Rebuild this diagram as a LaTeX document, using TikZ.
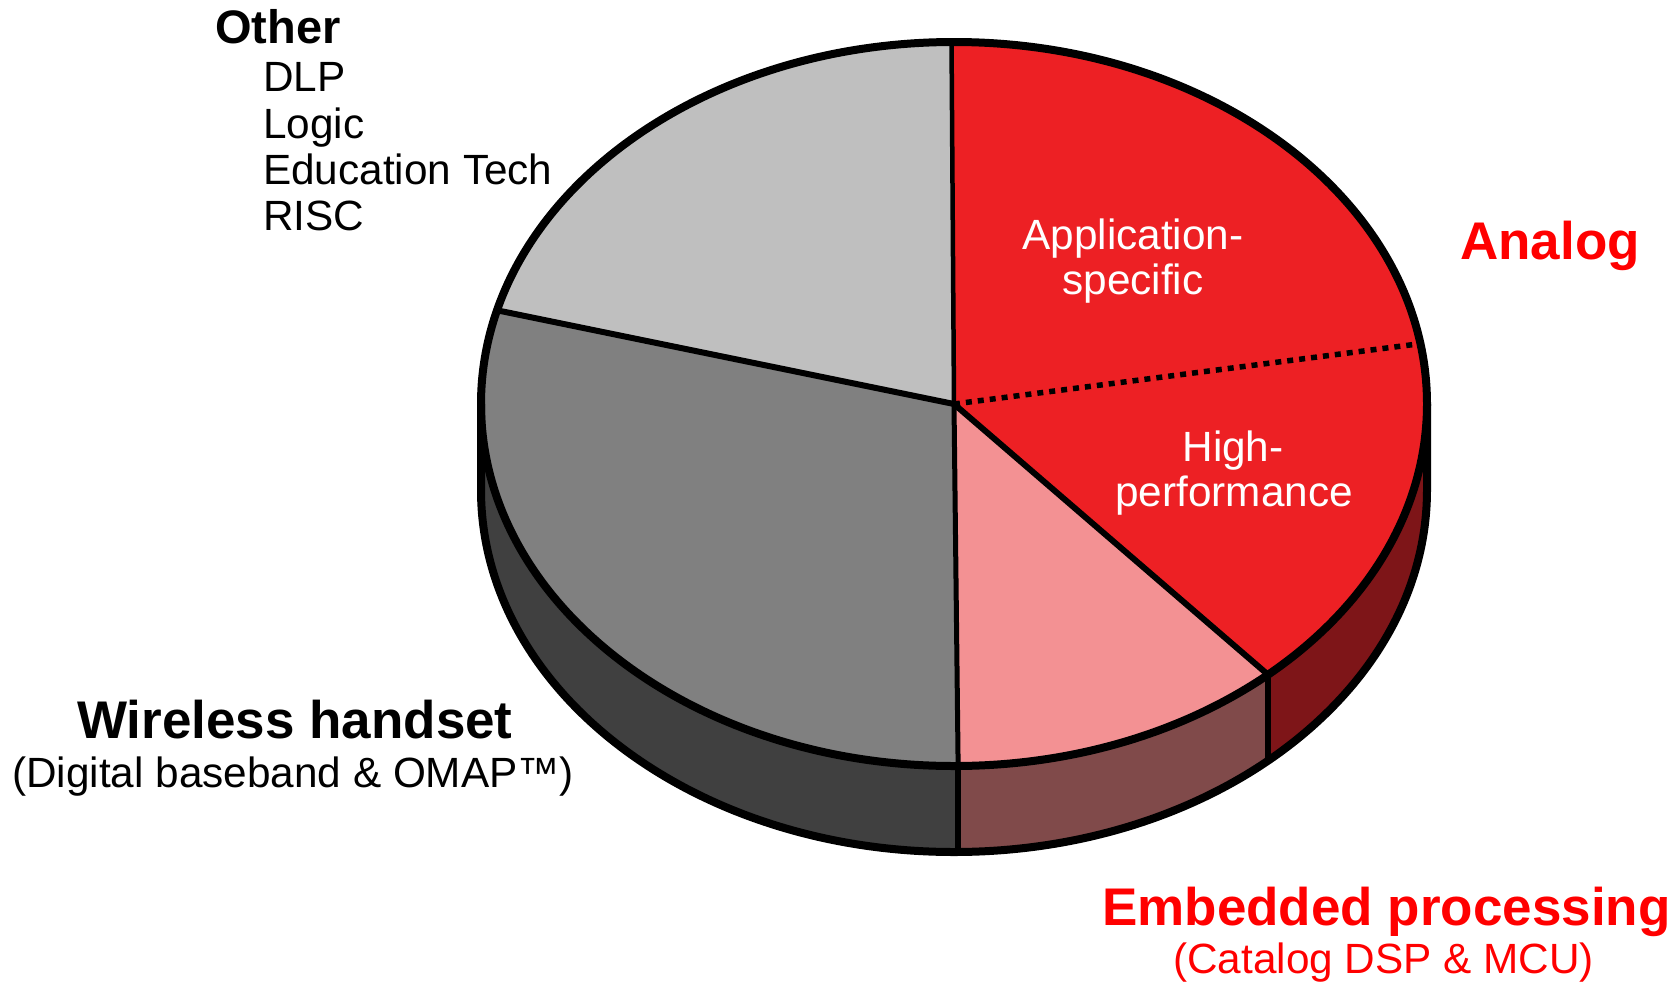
\documentclass[tikz,border=0pt]{standalone}
\usepackage{fontspec}
\setmainfont{Liberation Sans}
\usetikzlibrary{calc}
\definecolor{lightg}{HTML}{BFBFBF}
\definecolor{midg}{HTML}{808080}
\definecolor{wside}{HTML}{404040}
\definecolor{redc}{HTML}{ED2024}
\definecolor{pinkc}{HTML}{F39193}
\definecolor{eside}{HTML}{804A4A}
\definecolor{rside}{HTML}{7E1518}
\definecolor{labred}{HTML}{FF0000}
\definecolor{shadowc}{HTML}{A0A0A0}
\tikzset{
  reg/.style={inner sep=0pt, font=\fontsize{42.3pt}{46pt}\selectfont},
  boldbig/.style={inner sep=0pt, font=\fontsize{53pt}{58pt}\selectfont\bfseries},
  outline/.style={line width=8pt, line join=round},
  sliceline/.style={line width=6pt, line cap=round},
  ell/.style={x radius=473pt, y radius=362pt}
}
\begin{document}
\begin{tikzpicture}[x=1pt,y=1pt]
\useasboundingbox (0,0) rectangle (1674,-983);
% geometry
\coordinate (C) at (954,-404);
\coordinate (pL) at (481,-404);
\coordinate (pR) at (1427,-404);
\coordinate (pLb) at (481,-490);
\coordinate (pRb) at (1427,-490);
\coordinate (pTop) at ($(C)+(90.3:473pt and 362pt)$);
\coordinate (pOW) at ($(C)+(165:473pt and 362pt)$);
\coordinate (pWE) at ($(C)+(270.5:473pt and 362pt)$);
\coordinate (pEH) at ($(C)+(311.6:473pt and 362pt)$);
\coordinate (pHA) at ($(C)+(9.6:473pt and 362pt)$);
\coordinate (pWEb) at ($(pWE)+(0,-86)$);
\coordinate (pEHb) at ($(pEH)+(0,-86)$);
% shadow
\fill[shadowc, shift={(4,-9)}] (pL) -- (pLb) arc[start angle=180, end angle=360, ell] -- (pR) -- cycle;
% side faces
\fill[wside] (pL) -- (pLb) arc[start angle=180, end angle=270.5, ell] -- (pWE) arc[start angle=270.5, end angle=180, ell] -- cycle;
\fill[eside] (pWE) -- (pWEb) arc[start angle=270.5, end angle=311.6, ell] -- (pEH) arc[start angle=311.6, end angle=270.5, ell] -- cycle;
\fill[rside] (pEH) -- (pEHb) arc[start angle=311.6, end angle=360, ell] -- (pR) arc[start angle=360, end angle=311.6, ell] -- cycle;
% top slices
\fill[lightg] (C) -- (pTop) arc[start angle=90.3, end angle=165, ell] -- cycle;
\fill[midg] (C) -- (pOW) arc[start angle=165, end angle=270.5, ell] -- cycle;
\fill[pinkc] (C) -- (pWE) arc[start angle=270.5, end angle=311.6, ell] -- cycle;
\fill[redc] (C) -- (pEH) arc[start angle=311.6, end angle=450.3, ell] -- cycle;
% slice borders
\draw[sliceline, line width=4.5pt] (C) -- (pTop);
\draw[sliceline] (C) -- (pOW);
\draw[sliceline] (C) -- (pEH);
\draw[sliceline, line width=5pt] (C) -- (pWE);
\draw[line width=5.5pt, dash pattern=on 6pt off 6pt] (C) -- (pHA);
\draw[line width=5.5pt] (pWE) -- (pWEb);
\draw[line width=5.5pt] (pEH) -- (pEHb);
% outlines
\draw[outline] (C) ellipse [ell];
\draw[outline] (pL) -- (pLb) arc[start angle=180, end angle=360, ell] -- (pR);
% labels
\node[inner sep=0pt, anchor=base west, font=\fontsize{47pt}{52pt}\selectfont\bfseries] (other) at (215,-43.5) {Other};
\node[reg, anchor=base west] (dlp) at (263,-91) {DLP};
\node[reg, anchor=base west] (logic) at (263,-138) {Logic};
\node[reg, anchor=base west] (edu) at (263,-184.5) {Education Tech};
\node[reg, anchor=base west] (risc) at (263,-230.5) {RISC};
\node[boldbig, anchor=base west] (wireless) at (77,-738) {Wireless handset};
\node[reg, anchor=base west] (digital) at (12,-787) {(Digital baseband \& OMAP™)};
\node[boldbig, anchor=base west, text=labred] (analog) at (1460,-259) {Analog};
\node[boldbig, anchor=base west, text=labred] (embedded) at (1102,-925) {Embedded processing};
\node[reg, anchor=base west, text=labred] (catalog) at (1173,-973) {(Catalog DSP \& MCU)};
\node[reg, anchor=base, text=white] (app) at (1133,-249) {Application-};
\node[reg, anchor=base, text=white] (spec) at (1133,-294.7) {specific};
\node[reg, anchor=base, text=white] (high) at (1233,-461) {High-};
\node[reg, anchor=base, text=white] (perf) at (1234,-506) {performance};
\end{tikzpicture}
\end{document}
